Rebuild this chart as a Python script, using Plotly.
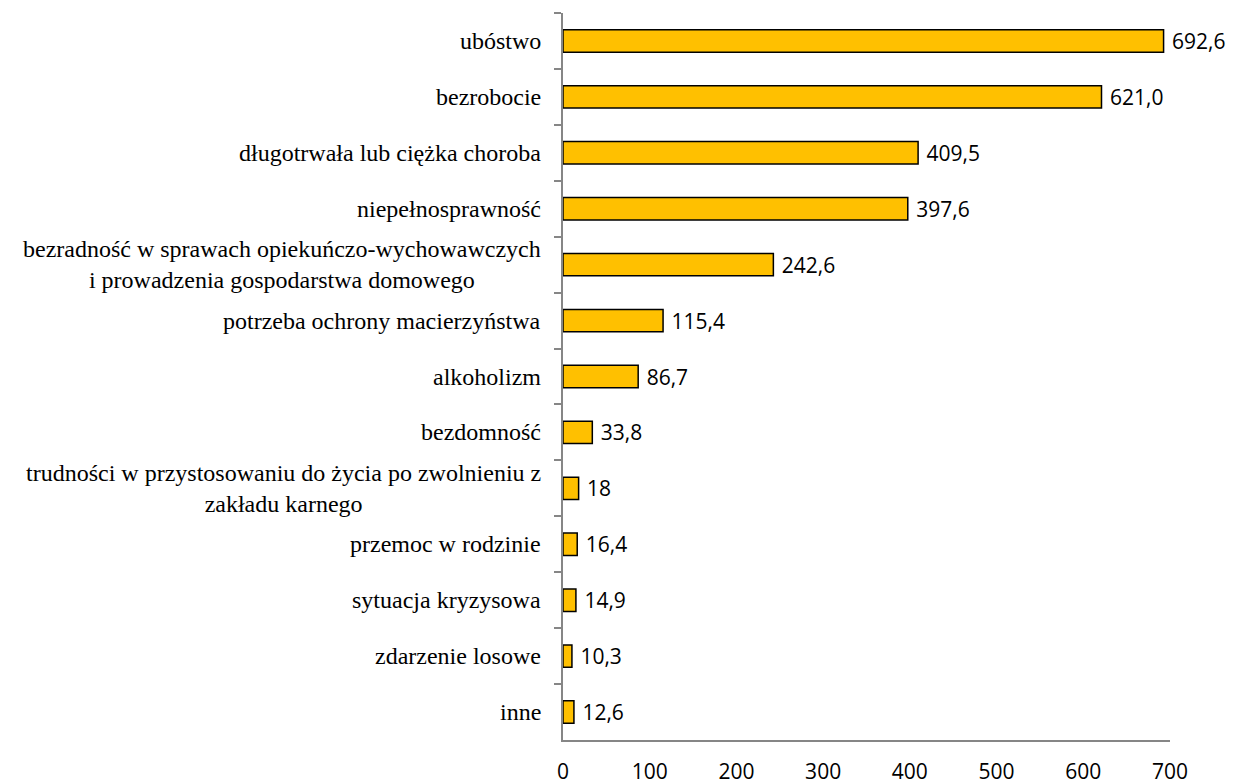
import plotly.graph_objects as go

categories = [
    "ubóstwo",
    "bezrobocie",
    "długotrwała lub ciężka choroba",
    "niepełnosprawność",
    "bezradność w sprawach opiekuńczo-wychowawczych<br>i prowadzenia gospodarstwa domowego",
    "potrzeba ochrony macierzyństwa",
    "alkoholizm",
    "bezdomność",
    "trudności w przystosowaniu do życia po zwolnieniu z<br>zakładu karnego",
    "przemoc w rodzinie",
    "sytuacja kryzysowa",
    "zdarzenie losowe",
    "inne",
]
values = [692.6, 621.0, 409.5, 397.6, 242.6, 115.4, 86.7, 33.8, 18, 16.4, 14.9, 10.3, 12.6]
value_labels = ["692,6", "621,0", "409,5", "397,6", "242,6", "115,4", "86,7", "33,8", "18", "16,4", "14,9", "10,3", "12,6"]
x_ticks = [0, 100, 200, 300, 400, 500, 600, 700]

fig = go.Figure()
fig.add_trace(go.Bar(
    x=values, y=categories, orientation="h",
    width=0.4,
    marker=dict(color="#FFC000", line=dict(color="#000000", width=1.5)),
    text=["\u00a0" + v for v in value_labels], textposition="outside", cliponaxis=False,
    constraintext="none",
    textfont=dict(family="Open Sans, sans-serif", size=21, color="#000000"),
))

for c in categories:
    fig.add_annotation(
        x=0, xref="paper", y=c, yref="y", text=c, showarrow=False,
        xanchor="right", align="center", xshift=-20,
        font=dict(family="Liberation Serif, Times New Roman, serif", size=24, color="#000000"),
    )

# page body has an 8px default margin, so plot area margins are compensated
fig.update_layout(
    width=1234, height=784,
    margin=dict(l=555, r=72, t=5, b=52, autoexpand=False),
    paper_bgcolor="white", plot_bgcolor="white",
    showlegend=False,
    bargap=0.6,
)
fig.update_xaxes(
    range=[0, 700], tickvals=x_ticks, ticktext=[str(v) for v in x_ticks],
    showgrid=False, zeroline=False, automargin=False,
    showline=True, linecolor="#868686", linewidth=1.5,
    ticks="", ticklabelstandoff=12,
    tickfont=dict(family="Open Sans, sans-serif", size=21, color="#000000"),
)
fig.update_yaxes(
    autorange="reversed", showgrid=False, zeroline=False, automargin=False,
    showline=True, linecolor="#868686", linewidth=1.5,
    ticks="outside", tickson="boundaries", ticklen=7, tickcolor="#868686", tickwidth=1.5,
    showticklabels=False,
)

fig.write_html("out.html")
